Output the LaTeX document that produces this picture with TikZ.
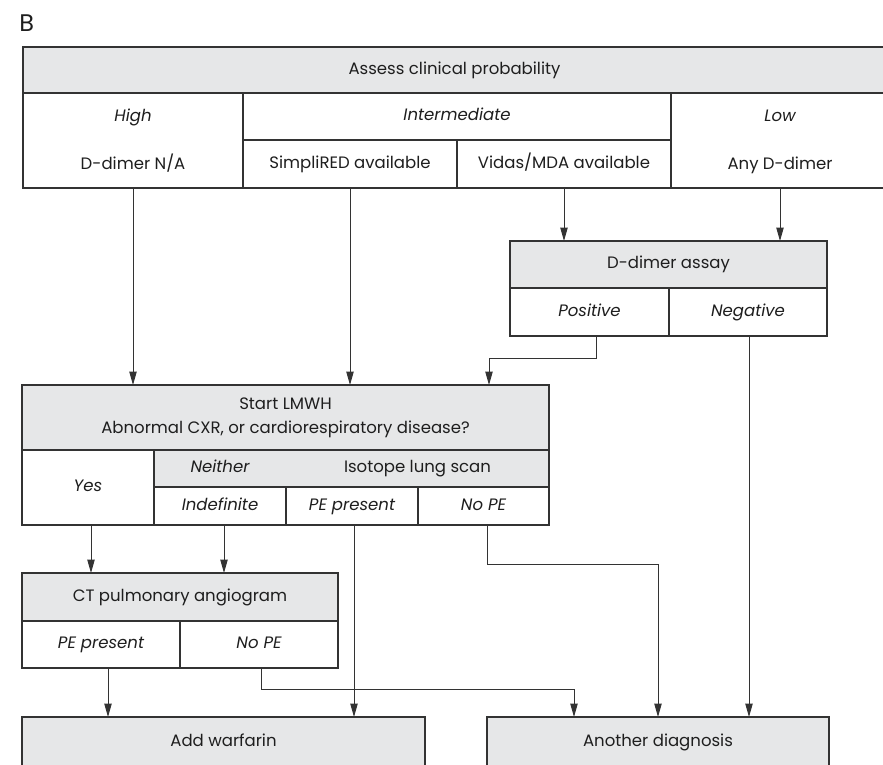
\documentclass[tikz,border=0pt]{standalone}
\usepackage{fontspec}
\setmainfont{Poppins}
\usetikzlibrary{arrows.meta}
\definecolor{boxgray}{HTML}{E6E7E8}
\definecolor{linec}{HTML}{333333}
\definecolor{txtc}{HTML}{1E1E1E}
\newcommand\cellbox[7]{\node[#6, minimum width={(#4-#2)*0.75pt}, minimum height={(#5-#3)*0.75pt}] (#1) at ({(#2+#4)/2},{(#3+#5)/2}) {#7};}
\begin{document}
\begin{tikzpicture}[x=0.75pt,y=-0.75pt, font=\fontsize{12.4}{18}\selectfont, text=txtc,
  tx/.style={text height=9pt, text depth=2.6pt},
  cellb/.style={draw=linec, line width=0.9pt, inner sep=0pt, outer sep=0pt, fill=white, tx},
  cellg/.style={cellb, fill=boxgray},
  lbl/.style={inner sep=0pt, tx},
  arr/.style={draw=linec, line width=0.7pt, -{Triangle[length=10pt,width=5.5pt]}},
  ln/.style={draw=linec, line width=0.7pt}]
\useasboundingbox (0,0) rectangle (883,765);
\node[anchor=west, inner sep=0pt, font=\fontsize{18}{20}\selectfont] (blabel) at (19,23) {B};
% top table
\cellbox{assess}{23}{47}{886}{93}{cellg}{Assess clinical probability}
\cellbox{high}{23}{93}{243}{188}{cellb}{}
\node[lbl] (hightxt) at (133,117) {\itshape High};
\node[lbl] (hightxt2) at (133,165) {D-dimer N/A};
\cellbox{inter}{243}{93}{671}{140}{cellb}{\itshape Intermediate}
\cellbox{simpli}{243}{140}{457}{188}{cellb}{SimpliRED available}
\cellbox{vidas}{457}{140}{671}{188}{cellb}{Vidas/MDA available}
\cellbox{low}{671}{93}{889}{188}{cellb}{}
\node[lbl] (lowtxt) at (780,117) {\itshape Low};
\node[lbl] (lowtxt2) at (780,165) {Any D-dimer};
% D-dimer
\cellbox{dd}{510}{241}{827}{288}{cellg}{D-dimer assay}
\cellbox{pos}{510}{288}{669}{336}{cellb}{\itshape Positive}
\cellbox{neg}{669}{288}{827}{336}{cellb}{\itshape Negative}
% LMWH
\cellbox{lmwh}{22}{385}{549}{450}{cellg,align=center,text height=,text depth=}{Start LMWH\\Abnormal CXR, or cardiorespiratory disease?}
\cellbox{yes}{22}{450}{154}{525}{cellb}{\itshape Yes}
\cellbox{nrow}{154}{450}{549}{487}{cellg}{}
\node[lbl] (neither) at (220,468.5) {\itshape Neither};
\node[lbl] (isotope) at (417.5,468.5) {Isotope lung scan};
\cellbox{indef}{154}{487}{286}{525}{cellb}{\itshape Indefinite}
\cellbox{lpe}{286}{487}{418}{525}{cellb}{\itshape PE present}
\cellbox{lnope}{418}{487}{549}{525}{cellb}{\itshape No PE}
% CT
\cellbox{ct}{22}{573}{338}{621}{cellg}{CT pulmonary angiogram}
\cellbox{ctpe}{22}{621}{180}{668}{cellb}{\itshape PE present}
\cellbox{ctno}{180}{621}{338}{668}{cellb}{\itshape No PE}
% bottom
\cellbox{warf}{22}{717}{425}{768}{cellg}{Add warfarin}
\cellbox{other}{487}{717}{829}{768}{cellg}{Another diagnosis}
% connectors
\draw[arr] (high.south) -- (high.south |- lmwh.north);
\draw[arr] (simpli.south) -- (simpli.south |- lmwh.north);
\draw[arr] (vidas.south) -- (vidas.south |- dd.north);
\draw[arr] (low.south) -- (low.south |- dd.north);
\coordinate (pa) at (596,358);
\coordinate (pb) at (489,358);
\draw[arr] (pos.south -| pa) -- (pa) -- (pb) -- (pb |- lmwh.north);
\coordinate (na) at (749,400);
\draw[arr] (neg.south -| na) -- (na |- other.north);
\coordinate (ya) at (91,540);
\draw[arr] (yes.south -| ya) -- (ya |- ct.north);
\coordinate (ia) at (224,540);
\draw[arr] (indef.south -| ia) -- (ia |- ct.north);
\coordinate (la) at (354,600);
\draw[arr] (lpe.south -| la) -- (la |- warf.north);
\coordinate (nb) at (487,564);
\draw[arr] (lnope.south -| nb) -- (nb) -| (other.north);
\coordinate (ca) at (108,690);
\draw[arr] (ctpe.south -| ca) -- (ca |- warf.north);
\coordinate (cb) at (261,689);
\coordinate (cc) at (574,689);
\draw[arr] (ctno.south -| cb) -- (cb) -- (cc) -- (cc |- other.north);
\end{tikzpicture}
\end{document}
